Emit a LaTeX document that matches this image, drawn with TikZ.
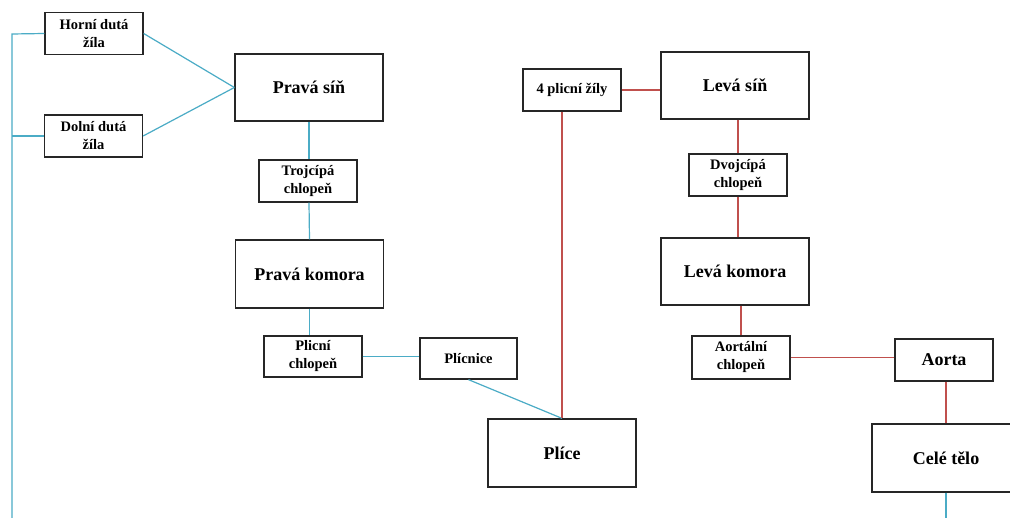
\documentclass[tikz,border=0pt]{standalone}
\usepackage{fontspec}
\setmainfont{Liberation Serif}
\definecolor{bl}{HTML}{4BACC6}
\definecolor{rd}{HTML}{C0504D}
\tikzset{
  box/.style={draw=black!85, line width=1.3pt, inner sep=0pt, align=center, font=\bfseries\fontsize{14.5}{18}\selectfont},
  small/.style={box, minimum width=98pt, minimum height=42pt},
  big/.style={box, minimum width=148pt, minimum height=67pt, font=\bfseries\fontsize{18}{21}\selectfont},
  bline/.style={draw=bl, line width=1.2pt},
  rline/.style={draw=rd, line width=1.2pt}
}
\begin{document}
\begin{tikzpicture}[x=1pt,y=-1pt]
\clip (0,0) rectangle (1010,518);
\fill[white] (0,0) rectangle (1010,518);
% left side
\node[small] (horni) at (94,33.5) {Horní dutá\\žíla};
\node[small] (dolni) at (93.5,136) {Dolní dutá\\žíla};
\node[big] (pravasin) at (309,87.5) {Pravá síň};
\node[small] (troj) at (308,181) {Trojcípá\\chlopeň};
\node[big, minimum height=68pt] (pravakom) at (309.5,274) {Pravá komora};
\node[small, minimum height=41pt] (plicchl) at (313,356.5) {Plicní\\chlopeň};
\node[small, minimum width=97pt, minimum height=41pt] (plicnice) at (468.5,358.5) {Plícnice};
\node[big, minimum height=68pt] (plice) at (562,453) {Plíce};
% right side
\node[small] (zily) at (572,90) {4 plicní žíly};
\node[big] (levasin) at (735,85.5) {Levá síň};
\node[small] (dvoj) at (738,175) {Dvojcípá\\chlopeň};
\node[big] (levakom) at (735,271.5) {Levá komora};
\node[small, minimum height=43pt] (aortchl) at (741,357.5) {Aortální\\chlopeň};
\node[small, font=\bfseries\fontsize{18}{21}\selectfont] (aorta) at (944,360) {Aorta};
\node[big, minimum height=68pt] (cele) at (946,458) {Celé tělo};
% coordinates
\coordinate (lt) at (12,34);
\coordinate (lb) at (12,520);
\coordinate (cb) at (946,520);
% blue connectors
\draw[bline] (horni.west) -- (lt) -- (lb);
\draw[bline] (dolni.west) -- (dolni.west -| lt);
\draw[bline] (horni.east) -- (pravasin.west);
\draw[bline] (dolni.east) -- (pravasin.west);
\draw[bline] (pravasin.south) -- (pravasin.south |- troj.north);
\draw[bline] (pravasin.south |- troj.south) -- (pravakom.north);
\draw[bline] (pravakom.south) -- (pravakom.south |- plicchl.north);
\draw[bline] (plicchl.east) -- (plicchl.east -| plicnice.west);
\draw[bline] (plicnice.south) -- (plice.north);
\draw[bline] (cele.south) -- (cb);
% red connectors
\draw[rline] (plice.north) -- (plice.north |- zily.south);
\draw[rline] (zily.east) -- (zily.east -| levasin.west);
\draw[rline] (dvoj.north |- levasin.south) -- (dvoj.north);
\draw[rline] (dvoj.south) -- (dvoj.south |- levakom.north);
\draw[rline] (aortchl.north |- levakom.south) -- (aortchl.north);
\draw[rline] (aortchl.east) -- (aortchl.east -| aorta.west);
\draw[rline] (aorta.south -| cele.north) -- (cele.north);
\end{tikzpicture}
\end{document}
